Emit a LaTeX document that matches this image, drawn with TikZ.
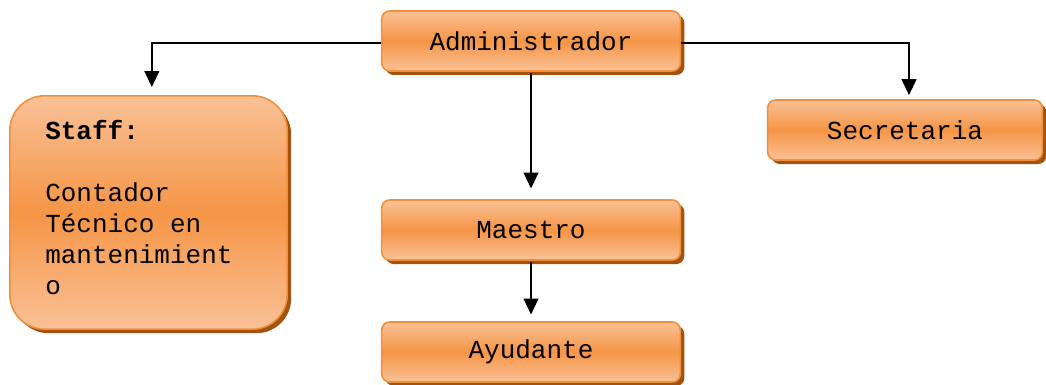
\documentclass[tikz,border=0pt]{standalone}
\usepackage{fontspec}
\setmainfont{Liberation Serif}
\setmonofont{Liberation Mono}
\usetikzlibrary{arrows.meta,shadows}
\definecolor{boxtop}{HTML}{F9C196}
\definecolor{boxmid}{HTML}{F59546}
\definecolor{boxline}{HTML}{F08F3C}
\definecolor{shadowc}{HTML}{A3530F}
\tikzset{
  px/.style={x=0.75pt,y=-0.75pt},
  orgbox/.style={draw=boxline, line width=1.2pt, rounded corners=6pt,
    top color=boxtop, bottom color=boxtop, middle color=boxmid,
    drop shadow={shadow xshift=3pt, shadow yshift=-3pt, fill=shadowc, opacity=1},
    font=\ttfamily\fontsize{19.5}{23.25}\selectfont, inner sep=0pt},
  conn/.style={line width=1.5pt, -{Triangle[width=11pt,length=12pt]}}
}
\begin{document}
\begin{tikzpicture}[px]
\useasboundingbox (0,0) rectangle (1046,385);
\node[orgbox, minimum width=224pt, minimum height=45pt] (adm) at (531,41) {Administrador};
\node[orgbox, minimum width=206pt, minimum height=45pt] (sec) at (905,130) {Secretaria};
\node[orgbox, minimum width=224pt, minimum height=45pt] (mae) at (531,230) {Maestro};
\node[orgbox, minimum width=224pt, minimum height=45pt] (ayu) at (531,352) {Ayudante};
\node[orgbox, rounded corners=26pt, minimum width=208pt, minimum height=175pt] (staff) at (148.5,212.5) {};
\node[anchor=north west, align=left, inner sep=0pt,
  font=\ttfamily\fontsize{19.5}{23.25}\selectfont] (stafftxt) at (45,120)
  {\textbf{Staff:}\\[23.25pt]Contador\\Técnico en\\mantenimient\\o};
\draw[conn, shorten >=6pt] ([yshift=-1.5pt]adm.west) -| ([xshift=2.5pt]staff.north);
\draw[conn, shorten >=3pt] ([yshift=-1.5pt]adm.east) -| ([xshift=3pt]sec.north);
\draw[conn, shorten >=8pt] ([yshift=-1pt]adm.south) -- (mae.north);
\draw[conn, shorten >=5pt] ([yshift=-1pt]mae.south) -- (ayu.north);
\end{tikzpicture}
\end{document}
